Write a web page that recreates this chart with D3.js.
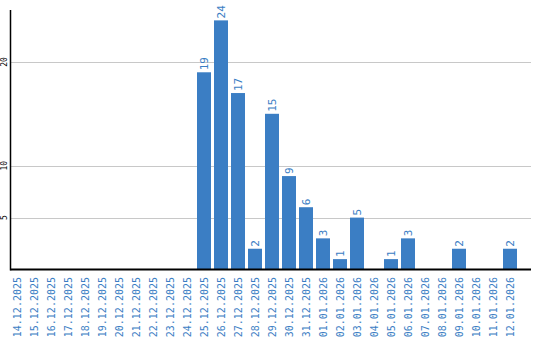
<!DOCTYPE html>
<html>
<head>
<meta charset="utf-8">
<script src="https://cdn.jsdelivr.net/npm/d3@7"></script>
<style>
  body { margin: 0; background: #fff; }
  text { font-family: "DejaVu Sans Mono", monospace; }
</style>
</head>
<body>
<script>
// chart data
const dates = [
  "14.12.2025", "15.12.2025", "16.12.2025", "17.12.2025", "18.12.2025",
  "19.12.2025", "20.12.2025", "21.12.2025", "22.12.2025", "23.12.2025",
  "24.12.2025", "25.12.2025", "26.12.2025", "27.12.2025", "28.12.2025",
  "29.12.2025", "30.12.2025", "31.12.2025", "01.01.2026", "02.01.2026",
  "03.01.2026", "04.01.2026", "05.01.2026", "06.01.2026", "07.01.2026",
  "08.01.2026", "09.01.2026", "10.01.2026", "11.01.2026", "12.01.2026"
];
const counts = [
  0, 0, 0, 0, 0, 0, 0, 0, 0, 0,
  0, 19, 24, 17, 2, 15, 9, 6, 3, 1,
  5, 0, 1, 3, 0, 0, 2, 0, 0, 2
];
const yTicks = [5, 10, 20];

const barColor = "#3b7ec4";

let width = 540, height = 340;
let plot = {left: 10.5, right: 531, top: 10, bottom: 269.5};
let svg, x, y;

appendSvg();
setupScales();
appendGrid();
appendBars();
appendAxes();

function appendSvg() {
  svg = d3.select("body").append("svg")
    .attr("width", width)
    .attr("height", height);
}

// one band per day, bars 14px wide with 3px gaps
function setupScales() {
  x = d3.scaleBand()
    .domain(dates)
    .range([10, 517])
    .paddingInner(3 / 17)
    .paddingOuter(0);

  y = d3.scaleLinear()
    .domain([0, 25])
    .range([plot.bottom, plot.top]);
}

function appendGrid() {
  svg.append("g")
    .selectAll("line")
    .data(yTicks)
    .enter().append("line")
      .attr("x1", plot.left)
      .attr("x2", plot.right)
      .attr("y1", d => Math.round(y(d)) + 0.5)
      .attr("y2", d => Math.round(y(d)) + 0.5)
      .attr("stroke", "#c8c8c8")
      .attr("stroke-width", 1.2);

  // y tick labels, rotated
  svg.append("g")
    .selectAll("text")
    .data(yTicks)
    .enter().append("text")
      .attr("transform", d => `translate(7, ${y(d)}) rotate(-90)`)
      .attr("text-anchor", "middle")
      .attr("font-size", 8)
      .attr("fill", "#000")
      .text(d => d);
}

function appendBars() {
  const g = svg.append("g");
  const data = dates.map((d, i) => ({date: d, value: counts[i]}));

  g.selectAll("rect")
    .data(data.filter(d => d.value > 0))
    .enter().append("rect")
      .attr("x", d => x(d.date))
      .attr("y", d => y(d.value))
      .attr("width", x.bandwidth())
      .attr("height", d => plot.bottom - y(d.value))
      .attr("fill", barColor);

  g.selectAll("text.val")
    .data(data.filter(d => d.value > 0))
    .enter().append("text")
      .attr("class", "val")
      .attr("transform", d => `translate(${x(d.date) + x.bandwidth() / 2 + 4}, ${y(d.value) - 2}) rotate(-90)`)
      .attr("font-size", 11)
      .attr("fill", barColor)
      .text(d => d.value);
}

function appendAxes() {
  // x axis line + rotated date labels
  svg.append("line")
    .attr("x1", plot.left).attr("x2", plot.right)
    .attr("y1", plot.bottom).attr("y2", plot.bottom)
    .attr("stroke", "#000").attr("stroke-width", 2);

  svg.append("line")
    .attr("x1", plot.left).attr("x2", plot.left)
    .attr("y1", plot.top).attr("y2", plot.bottom + 1)
    .attr("stroke", "#000").attr("stroke-width", 1.5);

  svg.append("g")
    .selectAll("text")
    .data(dates)
    .enter().append("text")
      .attr("transform", d => `translate(${x(d) + x.bandwidth() / 2 + 4}, 277) rotate(-90)`)
      .attr("text-anchor", "end")
      .attr("font-size", 10)
      .attr("fill", barColor)
      .text(d => d);
}
</script>
</body>
</html>
